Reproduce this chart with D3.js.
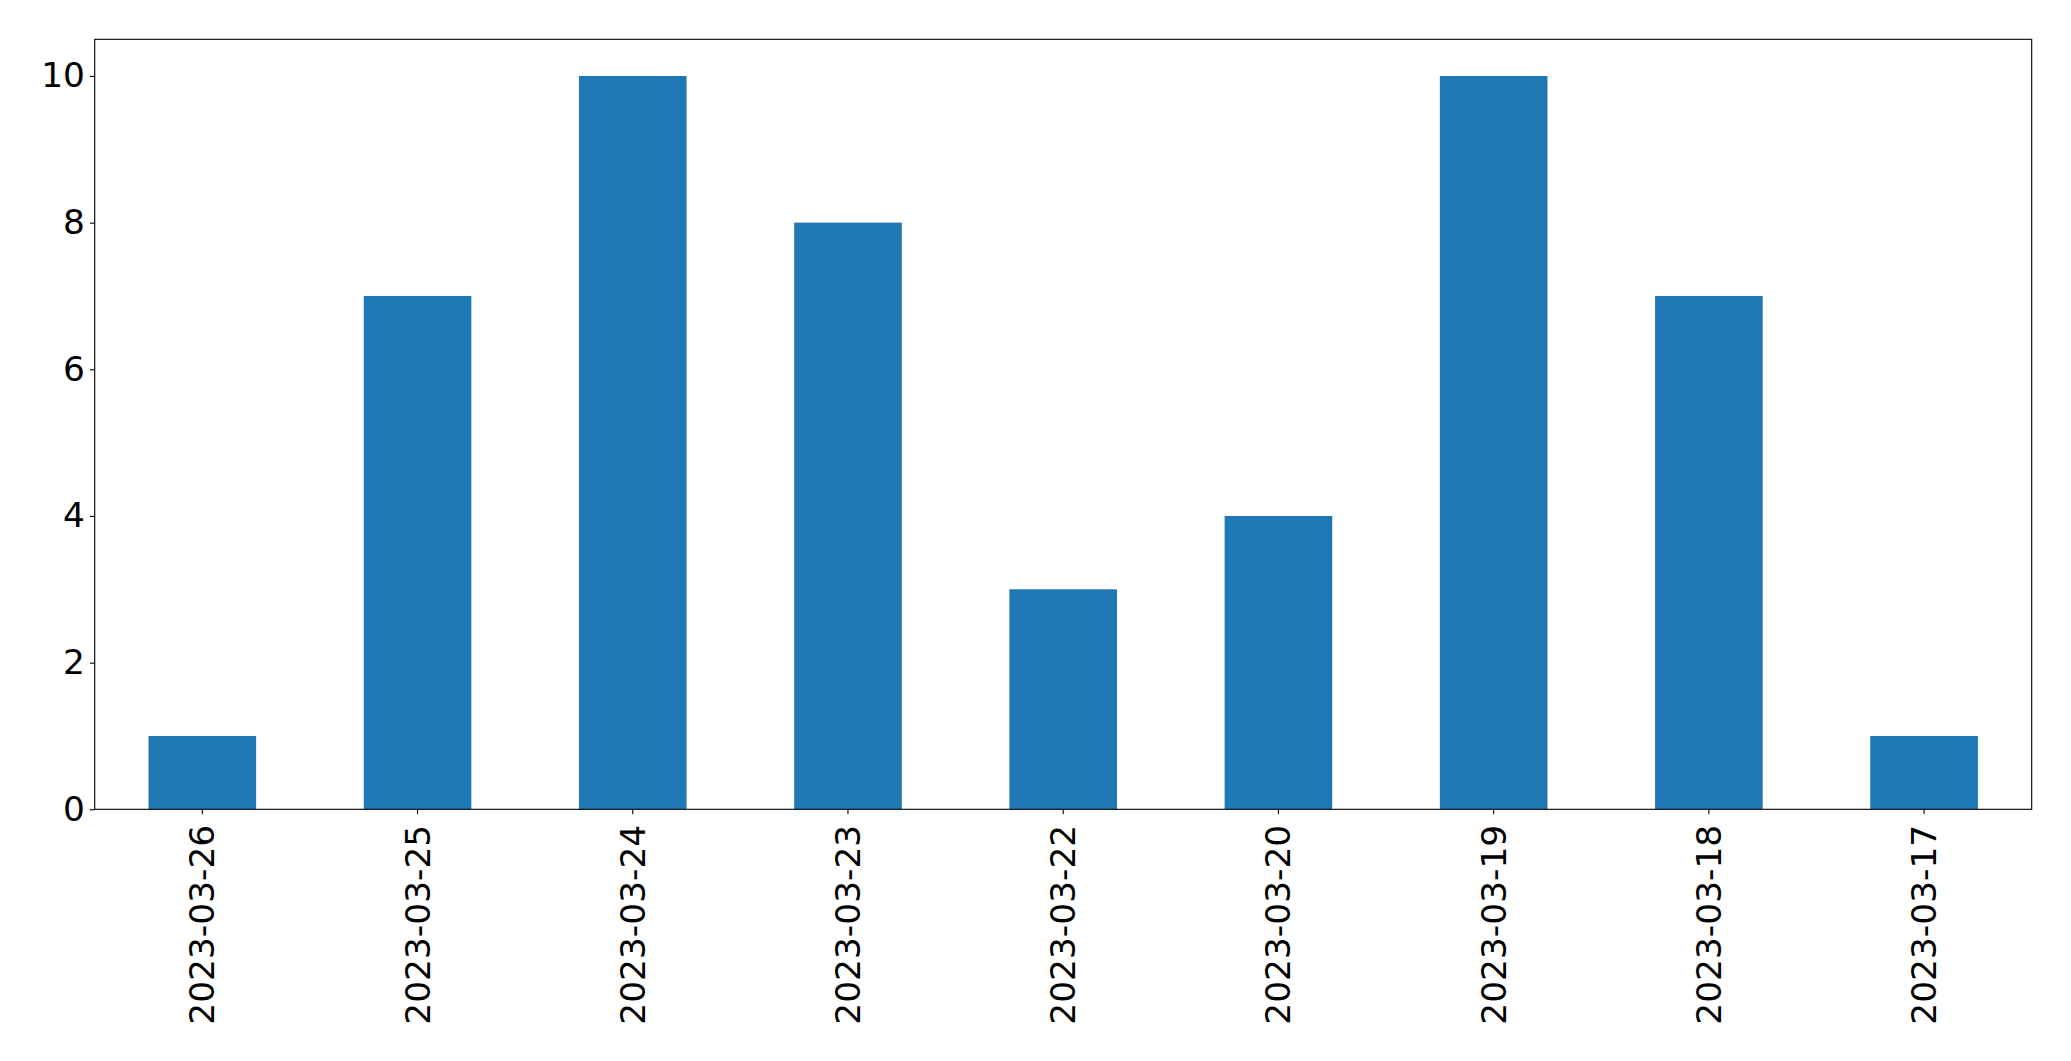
<!DOCTYPE html>
<html><head><meta charset="utf-8">
<script src="https://cdn.jsdelivr.net/npm/d3@7"></script>
<style>body{margin:0;background:#fff}svg{display:block}text{font-family:"DejaVu Sans",sans-serif}</style>
</head><body>
<script>
const categories = ["2023-03-26","2023-03-25","2023-03-24","2023-03-23","2023-03-22","2023-03-20","2023-03-19","2023-03-18","2023-03-17"];
const values = [1,7,10,8,3,4,10,7,1];
const yTicks = [0,2,4,6,8,10];

const W = 2071, H = 1061;
const L = 94.7, R = 2031.7, T = 39.3, B = 809.3;
const svg = d3.select("body").append("svg").attr("width", W).attr("height", H);

const x = d3.scaleBand().domain(categories).range([L, R]).paddingInner(0.5).paddingOuter(0.25);
const y = d3.scaleLinear().domain([0, 10.5]).range([B, T]);

svg.append("g").selectAll("rect").data(values).join("rect")
  .attr("x", (d,i) => x(categories[i]))
  .attr("width", x.bandwidth())
  .attr("y", d => y(d))
  .attr("height", d => y(0) - y(d))
  .attr("fill", "#1f77b4");

const fs = "34.4px";
const yAxis = svg.append("g").attr("transform", `translate(${L},0)`)
  .call(d3.axisLeft(y).tickValues(yTicks).tickSize(4.86).tickPadding(4.86).tickFormat(d3.format("d")));
yAxis.attr("font-size", null).attr("font-family", null);
yAxis.select(".domain").remove();
yAxis.selectAll("line").attr("stroke", "#000").attr("stroke-width", 1.1);
yAxis.selectAll("text").style("font-size", fs).style("font-family", "'DejaVu Sans'").attr("fill", "#000");

const xAxis = svg.append("g").attr("transform", `translate(0,${B})`)
  .call(d3.axisBottom(x).tickSize(4.86).tickPadding(4.86));
xAxis.attr("font-size", null).attr("font-family", null);
xAxis.select(".domain").remove();
xAxis.selectAll("line").attr("stroke", "#000").attr("stroke-width", 1.1);
xAxis.selectAll("text").style("font-size", fs).style("font-family", "'DejaVu Sans'").attr("fill", "#000")
  .attr("text-anchor", "end").attr("dy", null)
  .attr("dominant-baseline", "central")
  .attr("transform", "translate(0,5) rotate(-90)")
  .attr("x", -10.5).attr("y", 0);

svg.append("rect").attr("x", L).attr("y", T).attr("width", R - L).attr("height", B - T)
  .attr("fill", "none").attr("stroke", "#000").attr("stroke-width", 1.1);
</script>
</body></html>
